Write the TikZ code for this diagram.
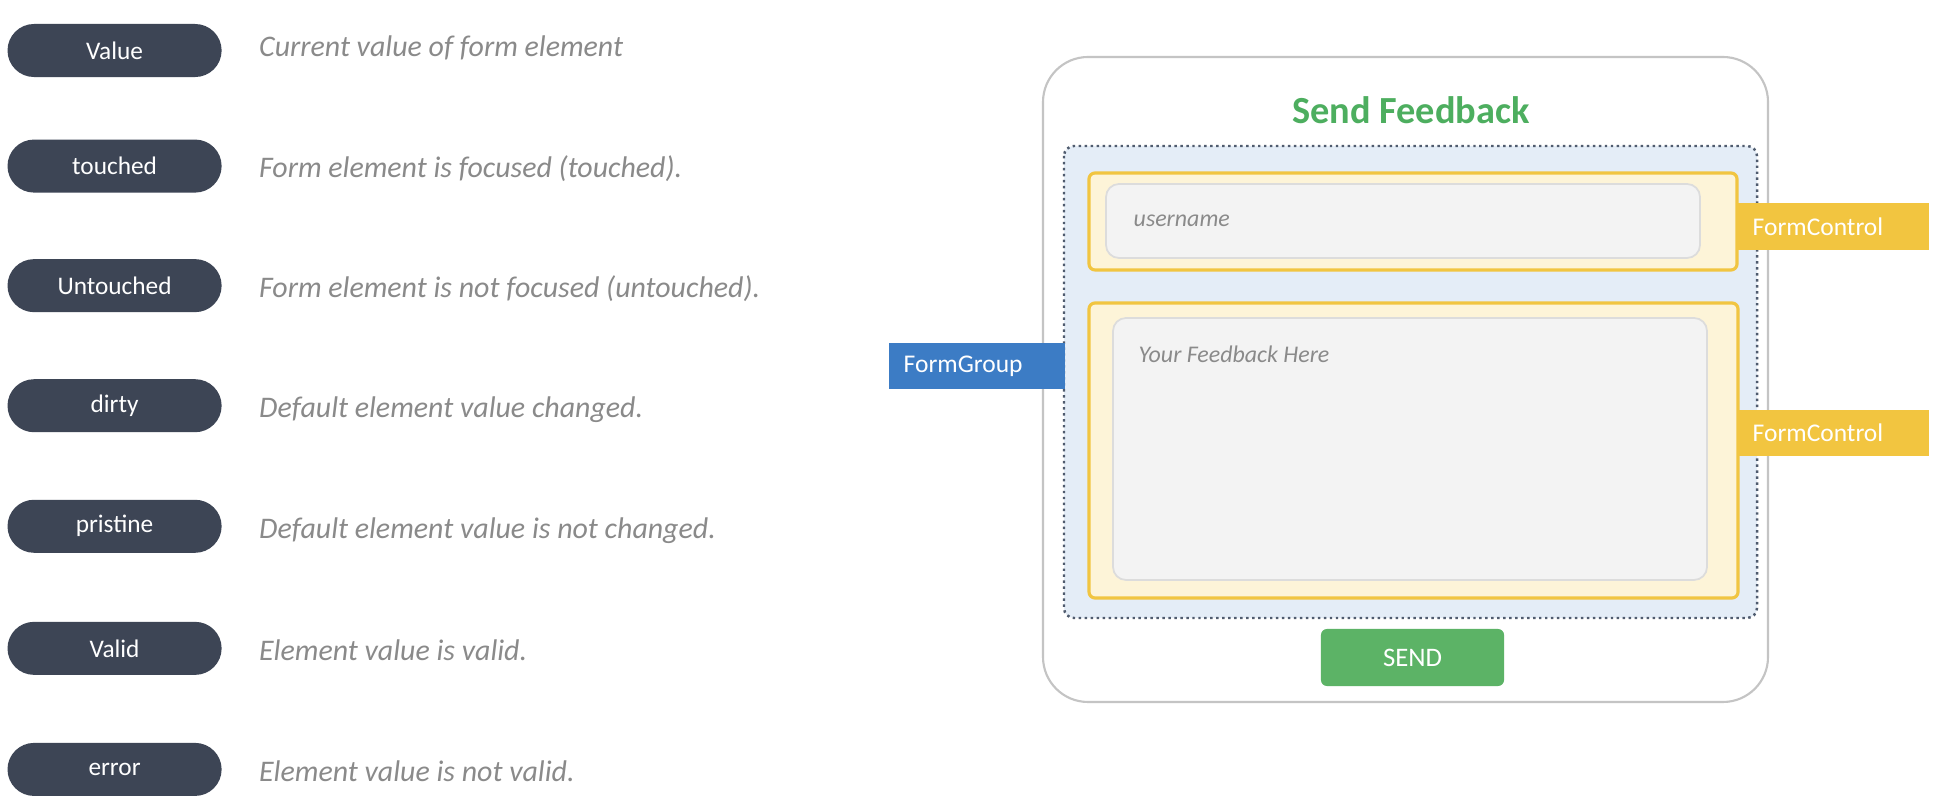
\documentclass[tikz,border=0pt]{standalone}
\usepackage{fontspec}
\setmainfont{Carlito}
\usepackage{xcolor}
\usepackage{tikz}
\usetikzlibrary{matrix}

\definecolor{pillgray}{HTML}{3D4555}
\definecolor{descgray}{HTML}{8A8A8A}
\definecolor{cardgray}{HTML}{C4C4C4}
\definecolor{titlegreen}{HTML}{4DAE5F}
\definecolor{groupfill}{HTML}{E4EDF7}
\definecolor{groupline}{HTML}{4F5B6E}
\definecolor{ctrlfill}{HTML}{FDF4D8}
\definecolor{ctrlline}{HTML}{F1C541}
\definecolor{inputfill}{HTML}{F3F3F3}
\definecolor{inputline}{HTML}{DCDCDC}
\definecolor{sendgreen}{HTML}{5CB366}
\definecolor{tagblue}{HTML}{3C7CC5}
\definecolor{tagyellow}{HTML}{F2C540}

\begin{document}
\begin{tikzpicture}[x=0.01cm, y=-0.01cm,
      pill/.style={anchor=center, fill=pillgray, text=white, rounded corners=0.265cm,
        minimum width=2.14cm, minimum height=0.53cm, inner sep=0pt,
        font=\fontsize{7.2}{8.5}\selectfont},
      desc/.style={anchor=west, text=descgray, inner sep=0pt, text height=1.4ex, text depth=0pt,
        font=\fontsize{8.5}{10}\selectfont\itshape},
      card/.style={draw=cardgray, line width=0.6pt, fill=white, rounded corners=0.45cm},
      groupbox/.style={draw=groupline, densely dotted, line width=0.7pt, fill=groupfill, rounded corners=0.1cm},
      ctrlbox/.style={draw=ctrlline, line width=0.9pt, fill=ctrlfill, rounded corners=0.06cm},
      inputbox/.style={draw=inputline, line width=0.5pt, fill=inputfill, rounded corners=0.13cm},
      hint/.style={anchor=west, text=descgray, inner sep=0pt, font=\fontsize{6.8}{8}\selectfont\itshape},
      tag/.style={anchor=west, text=white, inner xsep=0.15cm, inner ysep=0pt, align=left,
        minimum height=0.46cm, font=\fontsize{7.25}{8.5}\selectfont}]
    \fill[white] (0,0) rectangle (1942,804);
    \useasboundingbox (0,0) rectangle (1942,804);
    % left: the state flags
    \matrix (M)[matrix of nodes, matrix anchor=north west, inner sep=0pt, outer sep=0pt,
      column 1/.style={nodes=pill}, column 2/.style={nodes=desc},
      column sep={1.445cm,between origins},
      row sep={1.155cm,between origins}
      ] at (7.5,24) {
        Value & |[yshift=0.06cm]| Current value of form element \\
        touched & Form element is focused (touched). \\[0.04cm]
        Untouched & Form element is not focused (untouched). \\[0.045cm]
        dirty & Default element value changed. \\[0.05cm]
        pristine & Default element value is not changed. \\[0.065cm]
        Valid & Element value is valid. \\[0.055cm]
        error & Element value is not valid. \\
      };
    % right: the form
    \draw[card] (1043,57) rectangle (1768,702);
    \node[font=\fontsize{10.9}{12}\selectfont\bfseries, text=titlegreen] (title) at (1411,110) {Send Feedback};
    \draw[groupbox] (1064,146) rectangle (1757,618);
    \draw[ctrlbox] (1089,173) rectangle (1737,270);
    \draw[inputbox] (1106,184) rectangle (1700,258);
    \node[hint] (user) at (1133,221) {username};
    \draw[ctrlbox] (1089,303) rectangle (1738,598);
    \draw[inputbox] (1113,318) rectangle (1707,580);
    \node[hint] (feedback) at (1138,354) {Your Feedback Here};
    \node[fill=sendgreen, text=white, rounded corners=0.06cm, minimum width=1.83cm, minimum height=0.57cm,
      inner sep=0pt, font=\fontsize{7.6}{9}\selectfont] (send) at (1412.5,657.5) {SEND};
    % tags on top
    \node[tag, fill=tagblue, text width=1.46cm] (group) at (888,366) {FormGroup};
    \node[tag, fill=tagyellow, text width=1.61cm] (ctrlA) at (1737,226.5) {FormControl};
    \node[tag, fill=tagyellow, text width=1.61cm] (ctrlB) at (1737,433) {FormControl};
\end{tikzpicture}
\end{document}
